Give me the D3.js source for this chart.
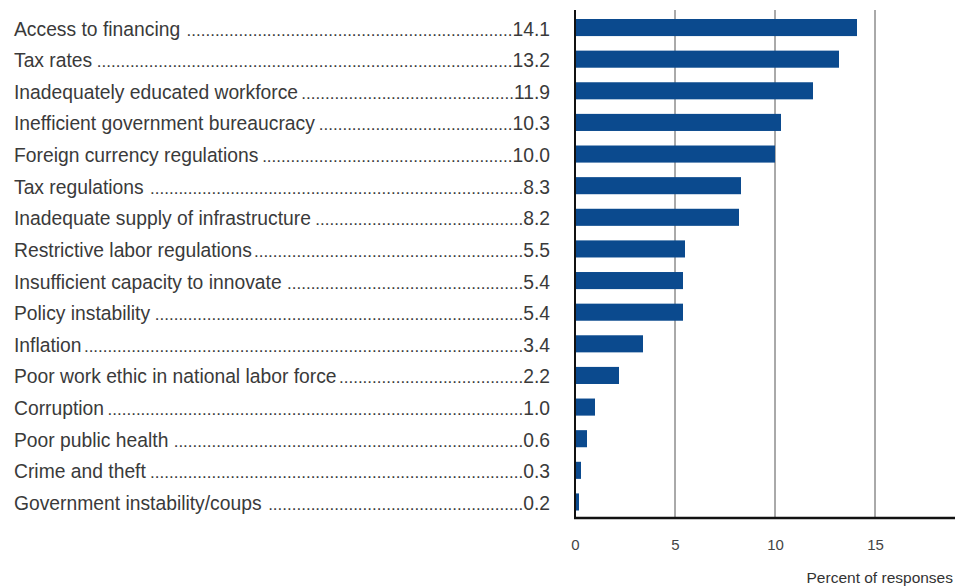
<!DOCTYPE html>
<html>
<head>
<meta charset="utf-8">
<script src="https://cdn.jsdelivr.net/npm/d3@7"></script>
<style>
  body { margin: 0; background: #fff; }
  text { font-family: "Liberation Sans", Arial, sans-serif; }
</style>
</head>
<body>
<script>
var w = 956;
var h = 587;

var categories = [
    "Access to financing",
    "Tax rates",
    "Inadequately educated workforce",
    "Inefficient government bureaucracy",
    "Foreign currency regulations",
    "Tax regulations",
    "Inadequate supply of infrastructure",
    "Restrictive labor regulations",
    "Insufficient capacity to innovate",
    "Policy instability",
    "Inflation",
    "Poor work ethic in national labor force",
    "Corruption",
    "Poor public health",
    "Crime and theft",
    "Government instability/coups"
];
var values = [14.1, 13.2, 11.9, 10.3, 10.0, 8.3, 8.2, 5.5, 5.4, 5.4, 3.4, 2.2, 1.0, 0.6, 0.3, 0.2];
var tickValues = [0, 5, 10, 15];

var x0 = 575, xEnd = 955;
var plotTop = 10, plotBottom = 518;
var fs = 19.3;

var xScale = d3.scaleLinear()
    .domain([0, 19])
    .range([x0, x0 + 19 * 20]);

var yScale = d3.scaleBand()
    .domain(categories)
    .range([19, 510.5])
    .paddingInner(0.46)
    .paddingOuter(0);

var svg = d3.select("body")
    .append("svg")
    .attr("width", w)
    .attr("height", h);

// gridlines
svg.selectAll("line.grid")
    .data(tickValues.slice(1))
    .enter()
    .append("line")
    .attr("class", "grid")
    .attr("x1", function(d){ return xScale(d); })
    .attr("x2", function(d){ return xScale(d); })
    .attr("y1", plotTop)
    .attr("y2", plotBottom)
    .attr("stroke", "#555")
    .attr("stroke-width", 1);

// bars
svg.selectAll("rect")
    .data(values)
    .enter()
    .append("rect")
    .attr("x", xScale(0))
    .attr("y", function(d, i){ return yScale(categories[i]); })
    .attr("width", function(d){ return xScale(d) - xScale(0); })
    .attr("height", yScale.bandwidth())
    .attr("fill", "#0b4a8e");

// axis lines
svg.append("line")
    .attr("x1", x0).attr("x2", x0)
    .attr("y1", plotTop).attr("y2", plotBottom)
    .attr("stroke", "#111").attr("stroke-width", 2);
svg.append("line")
    .attr("x1", x0 - 1).attr("x2", xEnd)
    .attr("y1", plotBottom).attr("y2", plotBottom)
    .attr("stroke", "#111").attr("stroke-width", 2.5);

// tick labels
var xAxis = d3.axisBottom(xScale)
    .tickValues(tickValues)
    .tickSize(0)
    .tickPadding(0);
var axisG = svg.append("g")
    .attr("transform", "translate(0," + 539 + ")")
    .call(xAxis);
axisG.select(".domain").remove();
axisG.selectAll("text")
    .attr("font-size", "15px")
    .attr("fill", "#444")
    .style("font-family", "'Liberation Sans Narrow', 'Liberation Sans', Arial, sans-serif");

svg.append("text")
    .attr("x", 953)
    .attr("y", 583)
    .attr("text-anchor", "end")
    .attr("font-size", "15.5px")
    .attr("fill", "#333")
    .text("Percent of responses");

// labels with dot leaders
var numRight = 550;
var rows = svg.selectAll("g.row")
    .data(categories)
    .enter()
    .append("g")
    .attr("class", "row")
    .attr("transform", function(d){
        return "translate(0," + (yScale(d) + yScale.bandwidth() / 2 + 8) + ")";
    });

rows.append("text")
    .attr("class", "num")
    .attr("x", numRight)
    .attr("text-anchor", "end")
    .attr("font-size", fs + "px")
    .attr("fill", "#3a3a3a")
    .text(function(d, i){ return values[i].toFixed(1); });

rows.append("text")
    .attr("class", "lab")
    .attr("x", 14)
    .attr("font-size", fs + "px")
    .attr("fill", "#3a3a3a")
    .text(function(d){ return d; });

rows.each(function(){
    var g = d3.select(this);
    var lab = g.select("text.lab").node();
    var num = g.select("text.num").node();
    var labEnd = 14 + lab.getComputedTextLength() + 2;
    var numStart = numRight - num.getComputedTextLength();
    var dots = g.append("text")
        .attr("font-size", "17px")
        .attr("fill", "#3a3a3a")
        .attr("x", numStart)
        .attr("text-anchor", "end");
    var s = "";
    for (var k = 0; k < 200; k++) {
        dots.text(s + ".");
        if (dots.node().getComputedTextLength() > numStart - labEnd) break;
        s += ".";
    }
    dots.text(s);
});
</script>
</body>
</html>
